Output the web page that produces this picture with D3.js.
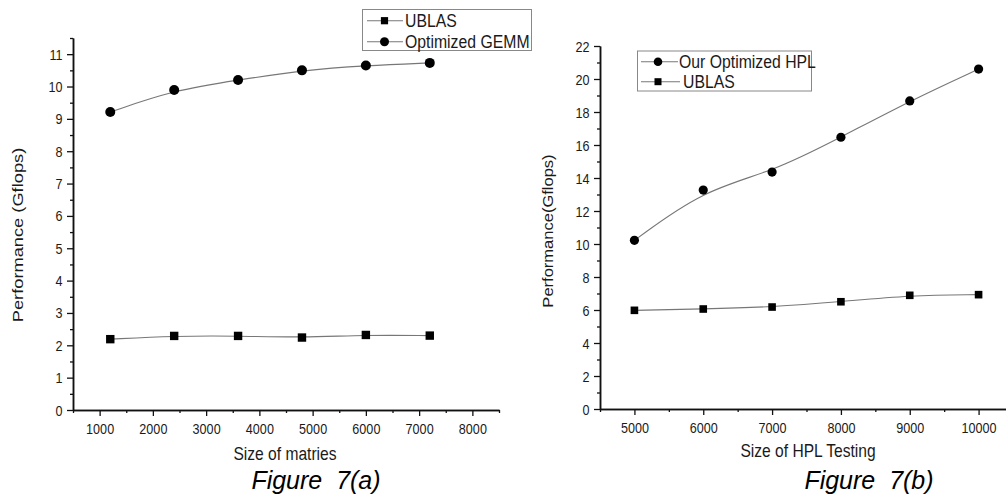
<!DOCTYPE html>
<html lang="en">
<head>
<meta charset="utf-8">
<style>
  body { margin: 0; background: #fff; }
  #chart text { font-family: "Liberation Sans", Arial, sans-serif; fill: #1a1a1a; }
</style>
</head>
<body>
<div id="chart"></div>
<script src="https://d3js.org/d3.v7.min.js"></script>
<script>
// ---- data ----
var sizesA = [1200, 2400, 3600, 4800, 6000, 7200];
var ublasA = [2.19, 2.29, 2.29, 2.24, 2.32, 2.30];
var gemmA  = [9.21, 9.89, 10.2, 10.5, 10.65, 10.73];

var sizesB = [5000, 6000, 7000, 8000, 9000, 10000];
var hplB   = [10.22, 13.27, 14.36, 16.47, 18.67, 20.6];
var ublasB = [5.98, 6.06, 6.18, 6.5, 6.89, 6.93];

var xTicksA = [1000, 2000, 3000, 4000, 5000, 6000, 7000, 8000];
var yTicksA = [0, 1, 2, 3, 4, 5, 6, 7, 8, 9, 10, 11];
var xTicksB = [5000, 6000, 7000, 8000, 9000, 10000];
var yTicksB = [0, 2, 4, 6, 8, 10, 12, 14, 16, 18, 20, 22];

var legendA = ["UBLAS", "Optimized GEMM"];
var legendB = ["Our Optimized HPL", "UBLAS"];

var svg = d3.select("#chart").append("svg")
    .attr("width", 1006).attr("height", 495);
svg.append("rect").attr("width", 1006).attr("height", 495).attr("fill", "#fff");

// the scanned figure is a little stretched vertically, so text is scaled in y
function label(g, x, y, str, size, sy, anchor, opts) {
  opts = opts || {};
  var tr = "translate(" + x + "," + y + ") scale(1," + sy + ")" + (opts.rotate ? " rotate(-90)" : "");
  return g.append("text")
    .attr("transform", tr)
    .attr("text-anchor", anchor)
    .style("font-size", size + "px")
    .style("font-style", opts.italic ? "italic" : "normal")
    .style("white-space", "pre")
    .style("fill", opts.color || null)
    .text(str);
}

function styleAxis(g) {
  g.select(".domain").attr("stroke", "#111").attr("stroke-width", 1.5);
  g.selectAll(".tick line").attr("stroke", "#111").attr("stroke-width", 1.3);
}

function marker(g, type, cx, cy, size) {
  if (type === "circle") {
    g.append("circle").attr("cx", cx).attr("cy", cy).attr("r", size).attr("fill", "#000");
  } else {
    g.append("rect").attr("x", cx - size).attr("y", cy - size)
      .attr("width", size * 2).attr("height", size * 2).attr("fill", "#000");
  }
}

function panel(cfg) {
  var g = svg.append("g");
  var x = d3.scaleLinear().domain(cfg.xDomain).range(cfg.xRange);
  var y = d3.scaleLinear().domain(cfg.yDomain).range(cfg.yRange);
  var x0 = cfg.xRange[0], y0 = cfg.yRange[0];

  // minor ticks
  var gxm = g.append("g").attr("transform", "translate(0," + y0 + ")")
    .call(d3.axisBottom(x).tickValues(cfg.xMinor).tickSize(3).tickSizeOuter(0).tickFormat(""));
  var gym = g.append("g").attr("transform", "translate(" + x0 + ",0)")
    .call(d3.axisLeft(y).tickValues(cfg.yMinor).tickSize(3).tickSizeOuter(0).tickFormat(""));
  styleAxis(gxm); styleAxis(gym);

  // major ticks
  var gx = g.append("g").attr("transform", "translate(0," + y0 + ")")
    .call(d3.axisBottom(x).tickValues(cfg.xTicks).tickSize(6).tickSizeOuter(0).tickFormat(d3.format("d")));
  var gy = g.append("g").attr("transform", "translate(" + x0 + ",0)")
    .call(d3.axisLeft(y).tickValues(cfg.yTicks).tickSize(6).tickSizeOuter(0).tickFormat(d3.format("d")));
  styleAxis(gx); styleAxis(gy);

  gx.selectAll(".tick text").attr("y", null).attr("dy", null).attr("fill", null)
    .attr("font-size", null).attr("font-family", null)
    .attr("transform", "translate(0,24) scale(1,1.2)").style("font-size", "12.6px");
  gy.selectAll(".tick text").attr("x", null).attr("dy", null).attr("fill", null)
    .attr("font-size", null).attr("font-family", null)
    .attr("transform", "translate(-10.5,5) scale(1,1.2)").style("font-size", "12.6px");

  // series
  var line = d3.line()
    .x(function(d) { return x(d[0]); })
    .y(function(d) { return y(d[1]); })
    .curve(d3.curveBasis);
  cfg.series.forEach(function(s) {
    var pts = cfg.sizes.map(function(v, i) { return [v, s.values[i]]; });
    g.append("path").attr("d", line(pts))
      .attr("fill", "none").attr("stroke", "#777").attr("stroke-width", 1.1);
    pts.forEach(function(p) { marker(g, s.type, x(p[0]), y(p[1]), s.size); });
  });

  // legend
  var L = cfg.legend;
  g.append("rect").attr("x", L.x).attr("y", L.y).attr("width", L.w).attr("height", L.h)
    .attr("fill", "#fff").attr("stroke", "#888").attr("stroke-width", 1);
  L.items.forEach(function(it, i) {
    var cy = L.rows[i];
    g.append("line").attr("x1", L.lx1).attr("x2", it.lx2).attr("y1", cy).attr("y2", cy)
      .attr("stroke", "#777").attr("stroke-width", 1.1);
    marker(g, it.type, L.mx, cy, it.size);
    label(g, it.tx, cy + 6, it.name, 15.8, 1.12, "start");
  });

  // titles
  label(g, cfg.xTitle.x, cfg.xTitle.y, cfg.xTitle.text, 15.6, 1.12, "middle");
  label(g, cfg.yTitle.x, cfg.yTitle.y, cfg.yTitle.text, 14.5, cfg.yTitle.sy, "middle", { rotate: true });
  label(g, cfg.caption.x, cfg.caption.y, cfg.caption.text, 25, 1, "middle", { italic: true, color: "#000" });
}

panel({
  xDomain: [500, 8500], xRange: [73, 499],
  yDomain: [0, 11.5], yRange: [410, 38],
  xTicks: xTicksA, yTicks: yTicksA,
  xMinor: d3.range(500, 8501, 1000), yMinor: d3.range(0.5, 11.51, 1),
  sizes: sizesA,
  series: [
    { values: ublasA, type: "square", size: 4.2 },
    { values: gemmA, type: "circle", size: 5 }
  ],
  legend: {
    x: 362.5, y: 9.5, w: 169, h: 41, lx1: 367, mx: 384.5, rows: [20.7, 41.7],
    items: [
      { name: legendA[0], type: "square", size: 3.6, lx2: 403, tx: 405 },
      { name: legendA[1], type: "circle", size: 4.5, lx2: 403, tx: 405 }
    ]
  },
  xTitle: { x: 285, y: 460, text: "Size of matries" },
  yTitle: { x: 23, y: 235, text: "Performance (Gflops)", sy: 1.26 },
  caption: { x: 316, y: 489, text: "Figure  7(a)" }
});

panel({
  xDomain: [4500, 10500], xRange: [600, 1013],
  yDomain: [0, 22], yRange: [409, 46],
  xTicks: xTicksB, yTicks: yTicksB,
  xMinor: d3.range(4500, 10501, 1000), yMinor: d3.range(1, 22, 2),
  sizes: sizesB,
  series: [
    { values: hplB, type: "circle", size: 4.6 },
    { values: ublasB, type: "square", size: 3.8 }
  ],
  legend: {
    x: 637.5, y: 51, w: 174, h: 40, lx1: 641, mx: 658, rows: [61.7, 81.7],
    items: [
      { name: legendB[0], type: "circle", size: 4.3, lx2: 678, tx: 679 },
      { name: legendB[1], type: "square", size: 3.5, lx2: 680, tx: 683 }
    ]
  },
  xTitle: { x: 808, y: 457, text: "Size of HPL Testing" },
  yTitle: { x: 553, y: 231, text: "Performance(Gflops)", sy: 1.14 },
  caption: { x: 869, y: 489, text: "Figure  7(b)" }
});
</script>
</body>
</html>
